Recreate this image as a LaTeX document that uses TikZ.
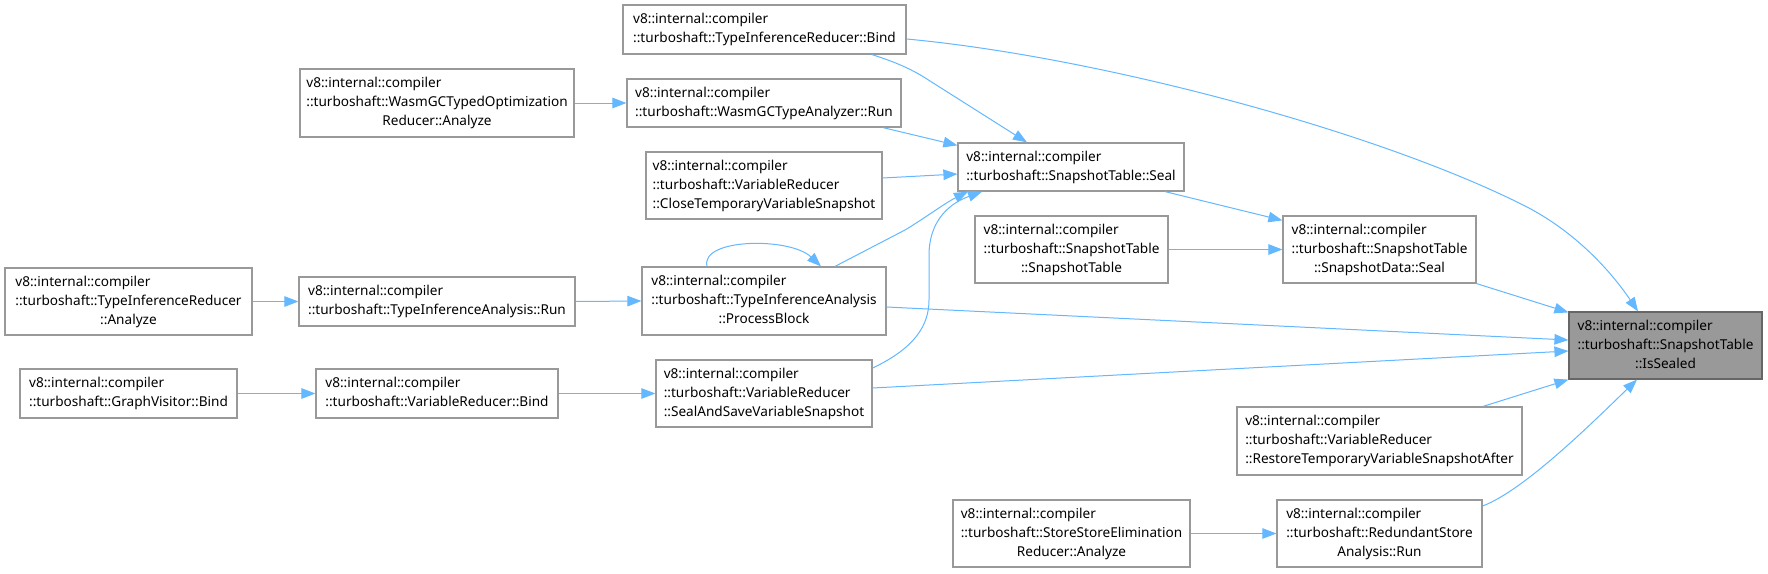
\documentclass[tikz,border=0pt]{standalone}
\usepackage{fontspec}
\setmainfont{Noto Sans}
\usetikzlibrary{arrows.meta}
\definecolor{edgec}{HTML}{63B8FF}
\definecolor{boxc}{HTML}{999999}
\definecolor{hlb}{HTML}{666666}
\newcommand{\tlab}[3]{\begin{tabular}{@{}l@{}}#1\\#2\\\multicolumn{1}{@{}c@{}}{#3}\end{tabular}}
\newcommand{\wlab}[2]{\begin{tabular}{@{}l@{}}#1\\#2\end{tabular}}
\newcommand{\vic}{v8::internal::compiler}
\begin{document}
\begin{tikzpicture}[x=1pt,y=-1pt,
  box/.style={draw=boxc,line width=1.2pt,fill=white,inner sep=0pt,text=black,font=\fontsize{13.6}{19}\selectfont},
  hl/.style={box,draw=hlb,fill=boxc},
  edge/.style={draw=edgec,line width=1pt,-{Triangle[length=14pt,width=10.5pt]}}]
\fill[white] (0,0) rectangle (1768,573);
\useasboundingbox (0,0) rectangle (1768,573);

\node[box,minimum width=283,minimum height=49] (tirBind) at (764.5,29.5) {\wlab{\vic}{::turboshaft::TypeInferenceReducer::Bind}};
\node[box,minimum width=274,minimum height=48] (wasmRun) at (764,103) {\wlab{\vic}{::turboshaft::WasmGCTypeAnalyzer::Run}};
\node[box,minimum width=274,minimum height=68] (wasmOpt) at (437,103) {\tlab{\vic}{::turboshaft::WasmGCTypedOptimization}{Reducer::Analyze}};
\node[box,minimum width=236,minimum height=67] (closeTmp) at (764,185.5) {\tlab{\vic}{::turboshaft::VariableReducer}{::CloseTemporaryVariableSnapshot}};
\node[box,minimum width=226,minimum height=48] (seal) at (1071,167) {\wlab{\vic}{::turboshaft::SnapshotTable::Seal}};
\node[box,minimum width=193,minimum height=67] (sTable) at (1071.5,249.5) {\tlab{\vic}{::turboshaft::SnapshotTable}{::SnapshotTable}};
\node[box,minimum width=193,minimum height=67] (sdSeal) at (1379.5,249.5) {\tlab{\vic}{::turboshaft::SnapshotTable}{::SnapshotData::Seal}};
\node[hl,minimum width=193,minimum height=67] (isSealed) at (1665.5,345.5) {\tlab{\vic}{::turboshaft::SnapshotTable}{::IsSealed}};
\node[box,minimum width=247,minimum height=67] (tirAnalyze) at (128.5,301.5) {\tlab{\vic}{::turboshaft::TypeInferenceReducer}{::Analyze}};
\node[box,minimum width=276,minimum height=49] (tiaRun) at (437,301.5) {\wlab{\vic}{::turboshaft::TypeInferenceAnalysis::Run}};
\node[box,minimum width=244,minimum height=68] (procBlock) at (764,301) {\tlab{\vic}{::turboshaft::TypeInferenceAnalysis}{::ProcessBlock}};
\node[box,minimum width=217,minimum height=49] (gvBind) at (128.5,393.5) {\wlab{\vic}{::turboshaft::GraphVisitor::Bind}};
\node[box,minimum width=242,minimum height=49] (vrBind) at (437,393.5) {\wlab{\vic}{::turboshaft::VariableReducer::Bind}};
\node[box,minimum width=216,minimum height=67] (sealSave) at (764,393.5) {\tlab{\vic}{::turboshaft::VariableReducer}{::SealAndSaveVariableSnapshot}};
\node[box,minimum width=285,minimum height=68] (restore) at (1379.5,441) {\tlab{\vic}{::turboshaft::VariableReducer}{::RestoreTemporaryVariableSnapshotAfter}};
\node[box,minimum width=205,minimum height=67] (redStore) at (1379.5,533.5) {\tlab{\vic}{::turboshaft::RedundantStore}{Analysis::Run}};
\node[box,minimum width=237,minimum height=67] (ssElim) at (1071.5,533.5) {\tlab{\vic}{::turboshaft::StoreStoreElimination}{Reducer::Analyze}};

\draw[edge] ([xshift=107.5pt]tirBind.south) .. controls (895,62) and (912,69) .. (930,81) -- ([xshift=-44pt]seal.north);
\draw[edge] ([yshift=-9.5pt]tirBind.east) .. controls (1100,57) and (1380,132) .. (1527,207) .. controls (1575,232) and (1610,270) .. ([xshift=-27.5pt]isSealed.north);
\draw[edge] (wasmOpt.east) -- (wasmRun.west);
\draw[edge] ([xshift=119pt]wasmRun.south) -- ([yshift=-3pt]seal.north west);
\draw[edge] ([yshift=7.5pt]closeTmp.east) -- ([yshift=-7pt]seal.west);
\draw[edge] ([xshift=71pt]procBlock.north) -- (905,230) .. controls (925,218) and (945,203) .. ([xshift=-103pt]seal.south);
\draw[edge] ([yshift=25.5pt]sealSave.east) .. controls (915,348) and (929,325) .. (929,300) -- (929,255) .. controls (929,225) and (945,205) .. ([xshift=-89pt]seal.south);
\draw[edge] ([xshift=-57pt]procBlock.north) .. controls (700,238) and (790,237) .. ([xshift=57pt]procBlock.north);
\draw[edge] (tiaRun.east) -- (procBlock.west);
\draw[edge] (tirAnalyze.east) -- (tiaRun.west);
\draw[edge] (gvBind.east) -- (vrBind.west);
\draw[edge] (vrBind.east) -- (sealSave.west);
\draw[edge] ([yshift=-6pt]procBlock.east) -- ([yshift=5.5pt]isSealed.west);
\draw[edge] ([yshift=5.5pt]sealSave.east) -- ([yshift=-5.5pt]isSealed.west);
\draw[edge] ([xshift=94pt]seal.south) -- ([yshift=-5pt]sdSeal.north west);
\draw[edge] (sTable.east) -- (sdSeal.west);
\draw[edge] (sdSeal.south east) -- ([yshift=-1pt]isSealed.north west);
\draw[edge] ([xshift=103.5pt]restore.north) -- (isSealed.south west);
\draw[edge] ([yshift=27.5pt]redStore.east) .. controls (1525,490) and (1595,420) .. ([xshift=-28.5pt]isSealed.south);
\draw[edge] (ssElim.east) -- (redStore.west);
\end{tikzpicture}
\end{document}
